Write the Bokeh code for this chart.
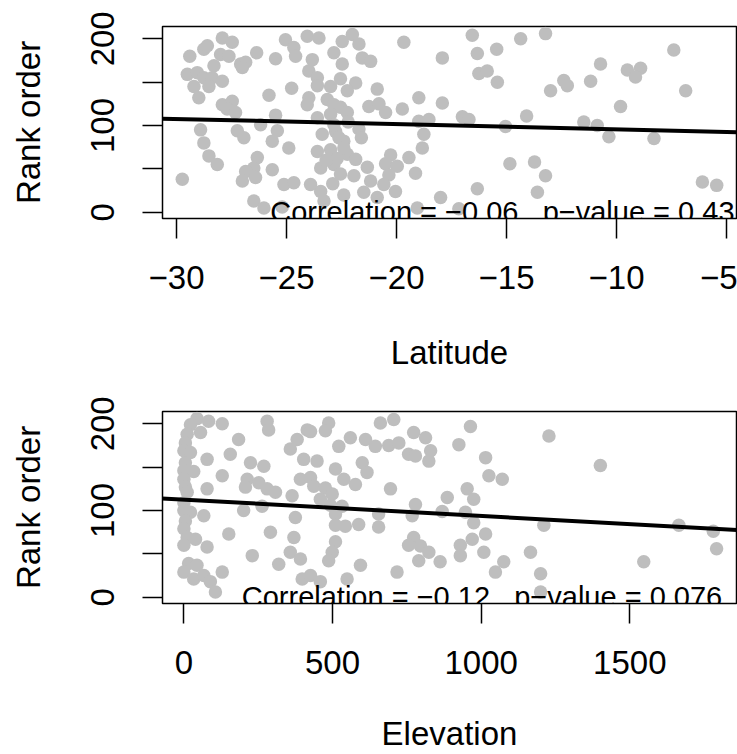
from bokeh.plotting import figure
from bokeh.models import Range1d, FixedTicker, Slope, Label
from bokeh.layouts import column
from bokeh.embed import file_html
from bokeh.resources import INLINE

# ---------------- data: panel 1 (Latitude) ----------------
latitude = [-29.40, -28.76, -28.60, -27.92, -27.47, -28.00, -27.62, -27.09, -26.86, -27.01,
            -26.36, -25.50, -28.30, -29.51, -29.06, -28.76, -28.38, -27.92, -29.21, -28.53,
            -28.99, -25.80, -24.77, -25.05, -24.67, -24.59, -27.92, -27.47, -27.70, -27.32,
            -25.50, -28.91, -27.24, -26.94, -26.18, -25.42, -25.65, -28.76, -28.53, -28.15,
            -29.74, -26.33, -26.49, -26.86, -27.01, -26.41, -25.65, -24.90, -25.12, -24.67,
            -26.49, -26.03, -24.06, -23.53, -22.47, -22.01, -21.71, -22.85, -21.56, -21.18,
            -19.67, -17.92, -23.83, -22.47, -23.99, -23.60, -22.55, -21.86, -23.60, -23.00,
            -22.24, -20.88, -23.99, -23.15, -22.85, -22.55, -22.24, -21.26, -20.80, -20.50,
            -19.74, -18.99, -17.92, -23.60, -23.00, -24.06, -23.38, -22.77, -21.71, -22.40,
            -23.60, -23.00, -22.24, -23.45, -22.85, -22.55, -21.86, -21.94, -21.33, -21.18,
            -20.27, -20.50, -19.97, -20.35, -20.58, -20.05, -19.44, -19.14, -18.83, -18.99,
            -18.53, -18.76, -23.45, -23.30, -23.91, -22.40, -21.49, -20.88, -19.06, -18.00,
            -22.85, -22.62, -22.40, -16.56, -16.33, -15.45, -14.36, -13.23, -16.26, -15.88,
            -15.42, -13.00, -12.40, -12.24, -11.18, -10.73, -9.51, -8.91, -9.14, -7.40,
            -6.86, -9.82, -17.01, -16.71, -15.05, -14.09, -11.49, -10.88, -10.35, -8.30,
            -14.85, -13.73, -13.23, -16.33, -13.60, -6.10, -5.45, -17.17,
            -22.70, -22.20, -21.60, -22.90, -25.20, -23.20]
rank_lat = [180, 188, 192, 201, 196, 182, 180, 171, 173, 167,
            184, 177, 169, 159, 161, 155, 155, 151, 145, 145,
            132, 135, 143, 199, 190, 180, 124, 128, 119, 115,
            112, 95, 94, 86, 101, 94, 82, 80, 65, 55,
            38, 63, 51, 47, 36, 40, 49, 74, 32, 34,
            13, 5, 203, 201, 197, 205, 194, 184, 178, 174,
            196, 178, 176, 171, 163, 155, 154, 149, 146, 145,
            140, 142, 132, 130, 124, 121, 115, 122, 125, 115,
            119, 132, 126, 109, 113, 124, 90, 93, 96, 82,
            70, 72, 67, 51, 55, 44, 61, 42, 52, 36,
            66, 56, 53, 43, 32, 24, 63, 45, 74, 105,
            107, 90, 24, 13, 32, 20, 23, 17, 5, 17,
            101, 86, 74, 204, 183, 188, 200, 206, 160, 163,
            150, 140, 152, 146, 151, 171, 164, 166, 156, 187,
            140, 122, 110, 107, 99, 111, 104, 100, 87, 85,
            56, 58, 42, 27, 23, 35, 31, 4,
            62, 104, 86, 33, 6, 60]

# ---------------- data: panel 2 (Elevation) ----------------
elevation = [44, 22, 83, 129, 56, 11, 5, 0, 22, 5,
             0, 33, 0, 5, 11, 0, 0, 22, 67, 5,
             0, 11, 39, 0, 78, 16, 44, 0, 33, 67,
             89, 106, 129, 78, 156, 184, 129, 78, 280, 285,
             224, 269, 213, 207, 252, 280, 308, 263, 201, 151,
             291, 230, 319, 364, 381, 392, 358, 375, 370, 358,
             392, 398, 415, 487, 476, 426, 560, 521, 611, 644,
             661, 706, 689, 723, 773, 813, 830, 824, 756, 779,
             403, 448, 510, 600, 616, 426, 437, 538, 577, 476,
             499, 695, 459, 493, 532, 510, 655, 779, 768, 510,
             543, 588, 655, 510, 499, 487, 594, 773, 756, 796,
             824, 790, 862, 717, 549, 426, 459, 964, 925, 1015,
             1026, 1071, 1228, 953, 975, 886, 869, 947, 975, 1015,
             970, 930, 930, 1009, 1076, 1048, 1166, 1200, 1211, 1200,
             1401, 1665, 1781, 1792, 1547]
rank_elev = [206, 199, 203, 200, 190, 188, 178, 169, 167, 155,
             146, 145, 136, 127, 121, 109, 100, 98, 94, 88,
             79, 69, 67, 60, 58, 39, 37, 29, 21, 25,
             18, 6, 29, 159, 165, 182, 140, 125, 203, 193,
             155, 151, 136, 127, 132, 125, 121, 105, 100, 73,
             75, 48, 38, 117, 182, 136, 171, 92, 69, 52,
             44, 21, 193, 201, 192, 191, 184, 174, 182, 174,
             201, 205, 175, 178, 190, 184, 169, 157, 165, 163,
             159, 157, 148, 155, 144, 138, 128, 136, 130, 126,
             119, 125, 113, 106, 105, 96, 96, 107, 94, 83,
             82, 84, 81, 64, 52, 42, 37, 69, 60, 59,
             52, 42, 41, 29, 21, 25, 18, 197, 176, 161,
             140, 136, 186, 125, 113, 115, 99, 98, 86, 73,
             67, 60, 48, 52, 41, 29, 52, 27, 83, 6,
             152, 83, 76, 56, 41]

lat_ticks = [-30, -25, -20, -15, -10, -5]
lat_tick_labels = ["\u221230", "\u221225", "\u221220", "\u221215", "\u221210", "\u22125"]
elev_ticks = [0, 500, 1000, 1500]
elev_tick_labels = ["0", "500", "1000", "1500"]
rank_ticks = [0, 50, 100, 150, 200]
rank_tick_labels = ["0", "", "100", "", "200"]

# fitted lines
lat_fit = {"slope": -0.594, "intercept": 89.7}
elev_fit = {"slope": -0.01885, "intercept": 112.6}

lat_note = "Correlation = \u22120.06\u00a0\u00a0\u00a0p\u2212value = 0.43"
elev_note = "Correlation = \u22120.12\u00a0\u00a0\u00a0p\u2212value = 0.076"

FONT = "Liberation Sans"
GRAY = "#BEBEBE"


def panel(x, y, xrange, xticks, xlabels, xtitle, fit, note, note_x,
          height, border_top, border_bottom, title_standoff):
    p = figure(width=737, height=height, output_backend="svg", toolbar_location=None,
               x_range=Range1d(*xrange), y_range=Range1d(-7.2, 214.2),
               min_border_left=162, min_border_right=1,
               min_border_top=border_top, min_border_bottom=border_bottom)
    p.xgrid.visible = False
    p.ygrid.visible = False
    p.outline_line_color = "black"
    p.outline_line_width = 1.5
    p.background_fill_color = "white"
    p.border_fill_color = "white"

    p.scatter(x, y, size=13.5, fill_color=GRAY, line_color=None)
    p.add_layout(Slope(gradient=fit["slope"], y_intercept=fit["intercept"],
                       line_color="black", line_width=4))
    p.add_layout(Label(x=note_x, y=0, text=note, text_align="right",
                       text_baseline="alphabetic", text_font=FONT,
                       text_font_size="29px", text_color="black"))

    xa = p.xaxis[0]
    xa.ticker = FixedTicker(ticks=xticks)
    xa.major_label_overrides = {t: l for t, l in zip(xticks, xlabels)}
    xa.axis_label = xtitle
    xa.major_label_standoff = 27
    xa.axis_label_standoff = title_standoff

    ya = p.yaxis[0]
    ya.ticker = FixedTicker(ticks=rank_ticks)
    ya.major_label_overrides = {t: l for t, l in zip(rank_ticks, rank_tick_labels)}
    ya.axis_label = "Rank order"
    ya.major_label_orientation = "vertical"
    ya.major_label_standoff = 28
    ya.axis_label_standoff = 42

    for ax in (xa, ya):
        ax.axis_line_color = None
        ax.major_tick_out = 20
        ax.major_tick_in = 0
        ax.major_tick_line_width = 1.5
        ax.major_tick_line_color = "black"
        ax.minor_tick_line_color = None
        ax.major_label_text_font = FONT
        ax.major_label_text_font_size = "33px"
        ax.major_label_text_color = "black"
        ax.axis_label_text_font = FONT
        ax.axis_label_text_font_size = "33px"
        ax.axis_label_text_font_style = "normal"
        ax.axis_label_text_color = "black"
    return p


p1 = panel(latitude, rank_lat, (-30.64, -4.55), lat_ticks, lat_tick_labels, "Latitude",
           lat_fit, lat_note, -4.64, 392, 26, 174, 42)
p2 = panel(elevation, rank_elev, (-72, 1859), elev_ticks, elev_tick_labels, "Elevation",
           elev_fit, elev_note, 1811, 362, 19, 151, 38)

layout = column(p1, p2, spacing=0)
open("out.html", "w").write(file_html(layout, INLINE))
